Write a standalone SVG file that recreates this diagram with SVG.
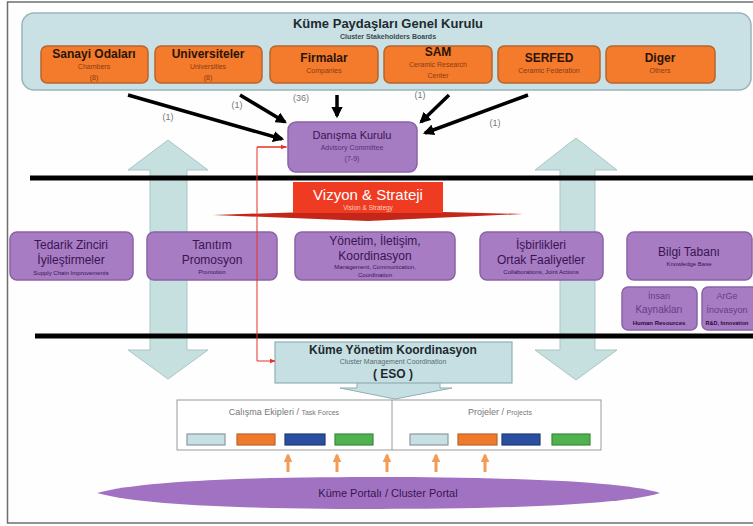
<svg xmlns="http://www.w3.org/2000/svg" width="753" height="526" viewBox="0 0 753 526">
<defs>
<style>
.t{font-family:"Liberation Sans",Arial,sans-serif;text-anchor:middle}
.ob{fill:#f47a2c;stroke:#b8642e;stroke-width:1.5}
.oh{font-size:12px;font-weight:bold;fill:#2a1408}
.os{font-size:7px;fill:#8a3c12}
.pb{fill:#a77cc3;stroke:#8a62a8;stroke-width:1.5}
.ph{font-size:12px;fill:#3a1452}
.ps{font-size:6px;fill:#3a1452}
.big{fill:#c6e0df;stroke:#a9c6c6;stroke-width:1}
.bl{stroke:#000;stroke-width:3.5;fill:none;marker-end:url(#ah)}
.num{font-size:9px;fill:#777}
.hl{stroke:#000;stroke-width:5}
.oa{stroke:#f39a55;stroke-width:3;marker-end:url(#oah)}
.sq{stroke-width:1.2}
</style>
<marker id="ah" viewBox="0 0 10 10" refX="8" refY="5" markerWidth="3.2" markerHeight="3.2" orient="auto"><path d="M0,0 L10,5 L0,10 Z" fill="#000"/></marker>
<marker id="oah" viewBox="0 0 10 10" refX="8" refY="5" markerWidth="3" markerHeight="3" orient="auto"><path d="M0,0 L10,5 L0,10 Z" fill="#f39a55"/></marker>
<marker id="rah" viewBox="0 0 10 10" refX="9" refY="5" markerWidth="6" markerHeight="6" orient="auto"><path d="M0,1 L10,5 L0,9 Z" fill="#e8302a"/></marker>
</defs>
<rect x="0" y="0" width="753" height="526" fill="#fff"/>
<rect x="7.5" y="2" width="760" height="521" fill="#fefefe" stroke="#6e6e6e" stroke-width="1.5"/>

<g id="stakeholders">
<rect x="22" y="13" width="729" height="77" rx="12" fill="#c9e1e4" stroke="#9ab4ba" stroke-width="1.5"/>
<text class="t" x="388" y="28" font-size="13" font-weight="bold" fill="#1e2a30">Küme Paydaşları Genel Kurulu</text>
<text class="t" x="388" y="39" font-size="7" font-weight="bold" fill="#3a4a50">Cluster Stakeholders Boards</text>
</g>
<g id="sanayi"><rect class="ob" x="41" y="46" width="107" height="37" rx="6"/>
<text class="t oh" x="94" y="58">Sanayi Odaları</text><text class="t os" x="94" y="69">Chambers</text><text class="t os" x="94" y="80">(8)</text></g>
<g id="universiteler"><rect class="ob" x="155" y="46" width="107" height="37" rx="6"/>
<text class="t oh" x="208" y="58">Universiteler</text><text class="t os" x="208" y="69">Universities</text><text class="t os" x="208" y="80">(8)</text></g>
<g id="firmalar"><rect class="ob" x="270" y="46" width="108" height="37" rx="6"/>
<text class="t oh" x="324" y="62">Firmalar</text><text class="t os" x="324" y="73">Companies</text></g>
<g id="sam"><rect class="ob" x="384" y="46" width="108" height="37" rx="6"/>
<text class="t oh" x="438" y="56">SAM</text><text class="t os" x="438" y="67">Ceramic Research</text><text class="t os" x="438" y="78">Center</text></g>
<g id="serfed"><rect class="ob" x="498" y="46" width="102" height="37" rx="6"/>
<text class="t oh" x="549" y="62">SERFED</text><text class="t os" x="549" y="73">Ceramic Federation</text></g>
<g id="diger"><rect class="ob" x="606" y="46" width="109" height="37" rx="6"/>
<text class="t oh" x="660" y="62">Diger</text><text class="t os" x="660" y="73">Others</text></g>

<g id="big-arrows">
<path class="big" d="M168,140 L208,170 L187,170 L187,350 L208,350 L168,379 L128,350 L150,350 L150,170 L128,170 Z"/>
<path class="big" d="M576,138 L617,170 L595,170 L595,350 L617,350 L576,380 L535,350 L560,350 L560,170 L535,170 Z"/>
</g>

<g id="lines">
<line class="hl" x1="30" y1="178" x2="753" y2="178"/>
<line class="hl" x1="35" y1="336" x2="753" y2="336"/>
</g>

<g id="danisma"><rect x="288" y="122" width="129" height="50" rx="8" fill="#a57bc2" stroke="#8a62a8" stroke-width="1.5"/>
<text class="t" x="352" y="139" font-size="11" fill="#3a1452">Danışma Kurulu</text>
<text class="t" x="352" y="150" font-size="7" fill="#5a3078">Advisory Committee</text>
<text class="t" x="352" y="161" font-size="7" fill="#5a3078">(7-9)</text></g>

<g id="vizyon">
<path d="M213,215 L368,210 L523,214 L368,221 Z" fill="#c4261a"/>
<rect x="293" y="182" width="150" height="31" fill="#ef3b22"/>
<text class="t" x="368" y="200" font-size="15" fill="#fff">Vizyon &amp; Strateji</text>
<text class="t" x="368" y="210" font-size="6.5" fill="#ffd0c0">Vision &amp; Strategy</text>
</g>

<g id="tedarik"><rect class="pb" x="10" y="232" width="123" height="48" rx="7"/>
<text class="t ph" x="71" y="249">Tedarik Zinciri</text><text class="t ph" x="71" y="264">İyileştirmeler</text><text class="t ps" x="71" y="275">Supply Chain Improvements</text></g>
<g id="tanitim"><rect class="pb" x="147" y="232" width="130" height="48" rx="7"/>
<text class="t ph" x="212" y="249">Tanıtım</text><text class="t ph" x="212" y="264">Promosyon</text><text class="t ps" x="212" y="274">Promotion</text></g>
<g id="yonetim"><rect class="pb" x="295" y="232" width="160" height="48" rx="7"/>
<text class="t ph" x="375" y="245">Yönetim, İletişim,</text><text class="t ph" x="375" y="260">Koordinasyon</text><text class="t ps" x="375" y="269">Management, Communication,</text><text class="t ps" x="375" y="277">Coordination</text></g>
<g id="isbirlikleri"><rect class="pb" x="480" y="232" width="123" height="48" rx="7"/>
<text class="t ph" x="541" y="249">İşbirlikleri</text><text class="t ph" x="541" y="264">Ortak Faaliyetler</text><text class="t ps" x="541" y="274">Collaborations, Joint Actions</text></g>
<g id="bilgi"><rect class="pb" x="627" y="232" width="125" height="48" rx="7"/>
<text class="t ph" x="689" y="256">Bilgi Tabanı</text><text class="t ps" x="689" y="266">Knowledge Base</text></g>
<g id="insan"><rect class="pb" x="622" y="287" width="75" height="43" rx="6"/>
<text class="t" x="659" y="299" font-size="9" fill="#6a3a8a">İnsan</text><text class="t" x="659" y="313" font-size="10" fill="#6a3a8a">Kaynakları</text><text class="t" x="659" y="325" font-size="6" font-weight="bold" fill="#2a0a3a">Human Resources</text></g>
<g id="arge"><rect class="pb" x="702" y="287" width="70" height="43" rx="6"/>
<text class="t" x="727" y="299" font-size="9" fill="#6a3a8a">ArGe</text><text class="t" x="727" y="313" font-size="9" fill="#6a3a8a">İnovasyon</text><text class="t" x="727" y="325" font-size="5.5" font-weight="bold" fill="#2a0a3a">R&amp;D, Innovation</text></g>

<g id="kume-yonetim">
<path d="M357,382 L440,382 L440,388 L452,388 L395,399 L340,388 L357,388 Z" fill="#c6dfe2" stroke="#8fb0b4" stroke-width="1"/>
<rect x="275" y="342" width="237" height="41" fill="#c6dfe2" stroke="#8fb0b4" stroke-width="1.2"/>
<text class="t" x="393" y="354" font-size="12" font-weight="bold" fill="#1e2a30">Küme Yönetim Koordinasyon</text>
<text class="t" x="393" y="364" font-size="7" fill="#5a6a70">Cluster Management Coordination</text>
<text class="t" x="393" y="378" font-size="12" font-weight="bold" fill="#1e2a30">( ESO )</text>
</g>

<g id="teams">
<rect x="177" y="400" width="424" height="50" fill="#fff" stroke="#9a9a9a" stroke-width="1"/>
<line x1="392" y1="400" x2="392" y2="450" stroke="#9a9a9a" stroke-width="1"/>
<text class="t" x="284" y="415" font-size="9" fill="#777">Calışma Ekipleri / <tspan font-size="7">Task Forces</tspan></text>
<text class="t" x="500" y="415" font-size="9" fill="#777">Projeler / <tspan font-size="7">Projects</tspan></text>
<rect class="sq" x="187" y="434" width="38" height="11" fill="#c8dfe3" stroke="#8a9a9e"/>
<rect class="sq" x="237" y="434" width="38" height="11" fill="#f07a2c" stroke="#b8642e"/>
<rect class="sq" x="285" y="434" width="40" height="11" fill="#2a4f9e" stroke="#1e3a78"/>
<rect class="sq" x="335" y="434" width="38" height="11" fill="#4fb24f" stroke="#3a8a3a"/>
<rect class="sq" x="410" y="434" width="38" height="11" fill="#c8dfe3" stroke="#8a9a9e"/>
<rect class="sq" x="458" y="434" width="39" height="11" fill="#f07a2c" stroke="#b8642e"/>
<rect class="sq" x="502" y="434" width="38" height="11" fill="#2a4f9e" stroke="#1e3a78"/>
<rect class="sq" x="552" y="434" width="38" height="11" fill="#4fb24f" stroke="#3a8a3a"/>
</g>

<g id="portal">
<path d="M97,493 C150,478 300,477 380,477 C480,477 620,480 660,493 C620,506 480,509 380,509 C300,509 150,508 97,493 Z" fill="#a272c2"/>
<text class="t" x="388" y="497" font-size="11" fill="#3a1452">Küme Portalı / Cluster Portal</text>
</g>

<g id="connectors">
<line class="bl" x1="128" y1="95" x2="282" y2="139"/>
<line class="bl" x1="240" y1="95" x2="285" y2="122"/>
<line class="bl" x1="337" y1="95" x2="337" y2="116"/>
<line class="bl" x1="449" y1="95" x2="421" y2="122"/>
<line class="bl" x1="528" y1="95" x2="425" y2="133"/>
<text class="t num" x="168" y="120">(1)</text>
<text class="t num" x="237" y="108">(1)</text>
<text class="t num" x="301" y="101">(36)</text>
<text class="t num" x="420" y="98">(1)</text>
<text class="t num" x="495" y="126">(1)</text>
<path d="M287,147 L257,147 L257,361 L275,361" fill="none" stroke="#e8302a" stroke-width="1" marker-end="url(#rah)"/>
<path d="M257,147 L286,147" fill="none" stroke="#e8302a" stroke-width="1" marker-end="url(#rah)"/>
<line class="oa" x1="288" y1="472" x2="288" y2="455"/>
<line class="oa" x1="337" y1="472" x2="337" y2="455"/>
<line class="oa" x1="387" y1="472" x2="387" y2="455"/>
<line class="oa" x1="436" y1="472" x2="436" y2="455"/>
<line class="oa" x1="485" y1="472" x2="485" y2="455"/>
</g>
</svg>
